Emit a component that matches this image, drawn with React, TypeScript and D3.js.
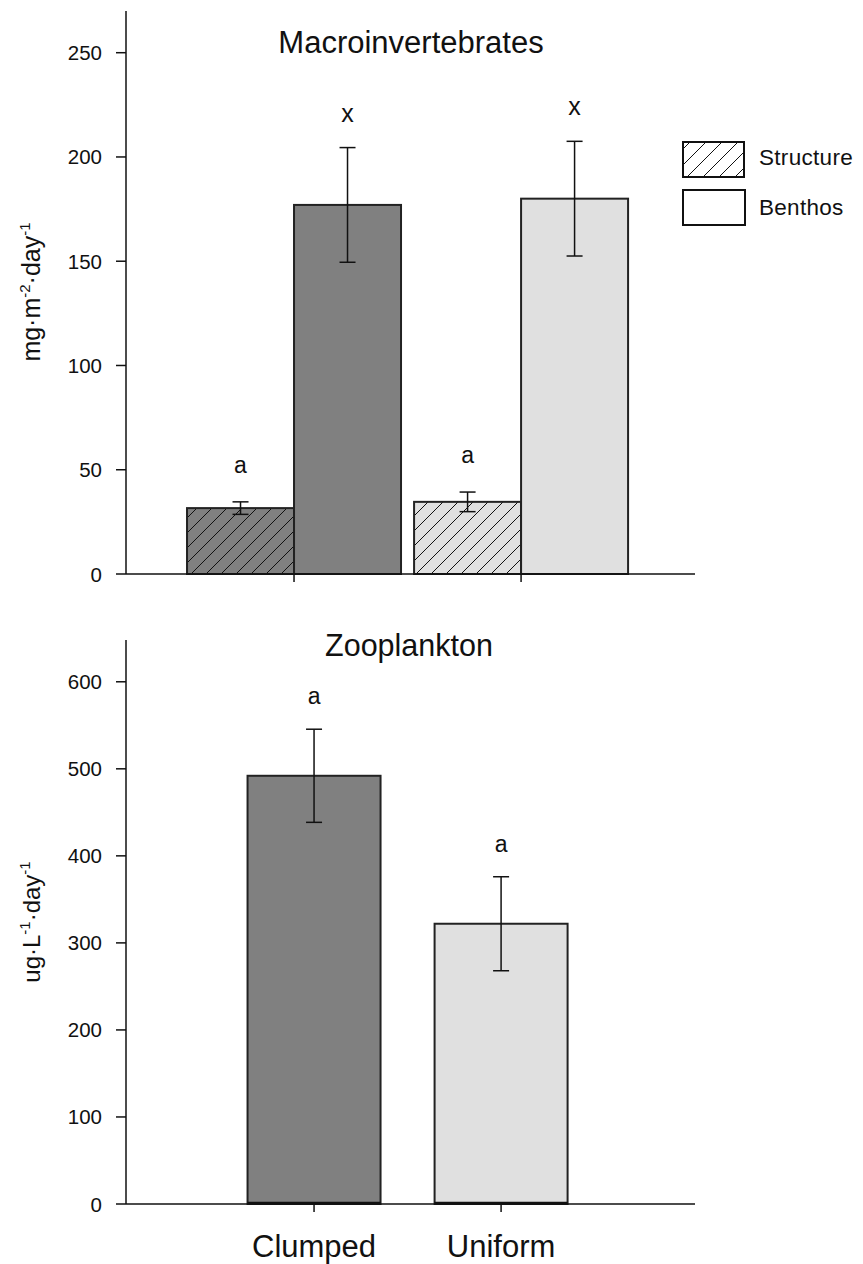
import React from "react";
import * as d3 from "d3";

const groups = ["Clumped", "Uniform"];
const macroStructure = [31.6, 34.6];
const macroStructureErr = [3, 4.7];
const macroBenthos = [177, 180];
const macroBenthosErr = [27.5, 27.5];
const macroLettersStructure = ["a", "a"];
const macroLettersBenthos = ["x", "x"];
const macroTicks = [0, 50, 100, 150, 200, 250];

const zooValues = [492, 322];
const zooErr = [53.5, 54];
const zooLetters = ["a", "a"];
const zooTicks = [0, 100, 200, 300, 400, 500, 600];

const legendItems = ["Structure", "Benthos"];

const fills = ["#808080", "#e0e0e0"];
const FONT = "'Liberation Sans', Arial, sans-serif";

export default function App() {
  const yTop = d3.scaleLinear().domain([0, 270]).range([574, 11]);
  const xTop = d3.scaleLinear().domain([-0.74, 1.766]).range([126, 695]);
  const barW = 107;
  const yBot = d3.scaleLinear().domain([0, 648]).range([1204, 640]);
  const xBot = d3.scaleLinear().domain([-1, 2.01]).range([127, 690]);
  const botW = 133;

  const axisX = 126;
  const capW = 16;
  const tickFont = 20.5;
  const letterFont = 23;

  const errBar = (cx: number, yTopV: number, yBotV: number, key: string) => (
    <g key={key} stroke="#111" strokeWidth={1.5}>
      <line x1={cx} x2={cx} y1={yTopV} y2={yBotV} />
      <line x1={cx - capW / 2} x2={cx + capW / 2} y1={yTopV} y2={yTopV} />
      <line x1={cx - capW / 2} x2={cx + capW / 2} y1={yBotV} y2={yBotV} />
    </g>
  );

  return (
    <svg width={855} height={1256} style={{ display: "block", overflow: "visible" }} fontFamily={FONT}>
      <defs>
        {fills.map((f, i) => (
          <pattern key={i} id={`hatch${i}`} patternUnits="userSpaceOnUse" width={15} height={15}>
            <rect width={15} height={15} fill={f} />
            <path d="M-1,1 l2,-2 M0,15 l15,-15 M14,16 l2,-2" stroke="#111" strokeWidth={1} />
          </pattern>
        ))}
        <pattern id="hatchL" patternUnits="userSpaceOnUse" width={16} height={16}>
          <rect width={16} height={16} fill="#fff" />
          <path d="M-1,1 l2,-2 M0,16 l16,-16 M15,17 l2,-2" stroke="#111" strokeWidth={1} />
        </pattern>
      </defs>
      <g transform="translate(-8,-8)">
        {/* ---------- TOP PANEL ---------- */}
        <text x={411} y={53} textAnchor="middle" fontSize={31} fill="#111">
          Macroinvertebrates
        </text>
        {groups.map((g, i) => {
          const c = xTop(i);
          const sx = c - barW;
          const bx = c;
          return (
            <g key={g}>
              <rect
                x={sx}
                y={yTop(macroStructure[i])}
                width={barW}
                height={yTop(0) - yTop(macroStructure[i])}
                fill={`url(#hatch${i})`}
                stroke="#222"
                strokeWidth={2}
              />
              <rect
                x={bx}
                y={yTop(macroBenthos[i])}
                width={barW}
                height={yTop(0) - yTop(macroBenthos[i])}
                fill={fills[i]}
                stroke="#222"
                strokeWidth={2}
              />
              {errBar(
                sx + barW / 2,
                yTop(macroStructure[i] + macroStructureErr[i]),
                yTop(macroStructure[i] - macroStructureErr[i]),
                "es" + i
              )}
              {errBar(
                bx + barW / 2,
                yTop(macroBenthos[i] + macroBenthosErr[i]),
                yTop(macroBenthos[i] - macroBenthosErr[i]),
                "eb" + i
              )}
              <text
                x={sx + barW / 2}
                y={yTop(macroStructure[i] + macroStructureErr[i]) - 29}
                textAnchor="middle"
                fontSize={letterFont}
                fill="#111"
              >
                {macroLettersStructure[i]}
              </text>
              <text
                x={bx + barW / 2}
                y={yTop(macroBenthos[i] + macroBenthosErr[i]) - 26}
                textAnchor="middle"
                fontSize={letterFont + 2}
                fill="#111"
              >
                {macroLettersBenthos[i]}
              </text>
              <line x1={c} x2={c} y1={yTop(0)} y2={yTop(0) + 8} stroke="#111" strokeWidth={1.5} />
            </g>
          );
        })}
        <line x1={axisX} x2={axisX} y1={yTop.range()[1]} y2={yTop(0)} stroke="#111" strokeWidth={1.5} />
        <line x1={axisX} x2={695} y1={yTop(0)} y2={yTop(0)} stroke="#111" strokeWidth={1.5} />
        {macroTicks.map((t) => (
          <g key={t}>
            <line x1={axisX - 10} x2={axisX} y1={yTop(t)} y2={yTop(t)} stroke="#111" strokeWidth={1.5} />
            <text x={102} y={yTop(t) + 7.5} textAnchor="end" fontSize={tickFont} fill="#111">
              {t}
            </text>
          </g>
        ))}
        <text
          transform={`translate(40,292) rotate(-90)`}
          textAnchor="middle"
          fontSize={25}
          fill="#111"
        >
          mg·m
          <tspan dy={-10} fontSize={15}>-2</tspan>
          <tspan dy={10}>·day</tspan>
          <tspan dy={-10} fontSize={15}>-1</tspan>
        </text>
        {/* legend */}
        {legendItems.map((l, i) => (
          <g key={l}>
            <rect
              x={683}
              y={142 + i * 48}
              width={61 + i}
              height={35}
              fill={i === 0 ? "url(#hatchL)" : "#fff"}
              stroke="#111"
              strokeWidth={2}
            />
            <text x={759} y={165 + i * 50} fontSize={22.5} letterSpacing={0.3} fill="#111">
              {l}
            </text>
          </g>
        ))}

        {/* ---------- BOTTOM PANEL ---------- */}
        <text x={409} y={656} textAnchor="middle" fontSize={30.5} fill="#111">
          Zooplankton
        </text>
        {groups.map((g, i) => {
          const c = xBot(i);
          return (
            <g key={g}>
              <rect
                x={c - botW / 2}
                y={yBot(zooValues[i])}
                width={botW}
                height={yBot(0) - yBot(zooValues[i])}
                fill={fills[i]}
                stroke="#222"
                strokeWidth={2}
              />
              <line x1={c - botW / 2} x2={c + botW / 2} y1={yBot(0) - 1} y2={yBot(0) - 1} stroke="#111" strokeWidth={2.5} />
              {errBar(c, yBot(zooValues[i] + zooErr[i]), yBot(zooValues[i] - zooErr[i]), "ez" + i)}
              <text
                x={c}
                y={yBot(zooValues[i] + zooErr[i]) - 25}
                textAnchor="middle"
                fontSize={letterFont}
                fill="#111"
              >
                {zooLetters[i]}
              </text>
              <line x1={c} x2={c} y1={yBot(0)} y2={yBot(0) + 8} stroke="#111" strokeWidth={1.5} />
              <text x={c} y={1257} textAnchor="middle" fontSize={31} fill="#111">
                {g}
              </text>
            </g>
          );
        })}
        <line x1={axisX} x2={axisX} y1={yBot.range()[1]} y2={yBot(0)} stroke="#111" strokeWidth={1.5} />
        <line x1={axisX} x2={695} y1={yBot(0)} y2={yBot(0)} stroke="#111" strokeWidth={1.5} />
        {zooTicks.map((t) => (
          <g key={t}>
            <line x1={axisX - 10} x2={axisX} y1={yBot(t)} y2={yBot(t)} stroke="#111" strokeWidth={1.5} />
            <text x={102} y={yBot(t) + 7.5} textAnchor="end" fontSize={tickFont} fill="#111">
              {t}
            </text>
          </g>
        ))}
        <text
          transform={`translate(40,922) rotate(-90)`}
          textAnchor="middle"
          fontSize={24}
          fill="#111"
        >
          ug·L
          <tspan dy={-10} fontSize={15}>-1</tspan>
          <tspan dy={10}>·day</tspan>
          <tspan dy={-10} fontSize={15}>-1</tspan>
        </text>
      </g>
    </svg>
  );
}
